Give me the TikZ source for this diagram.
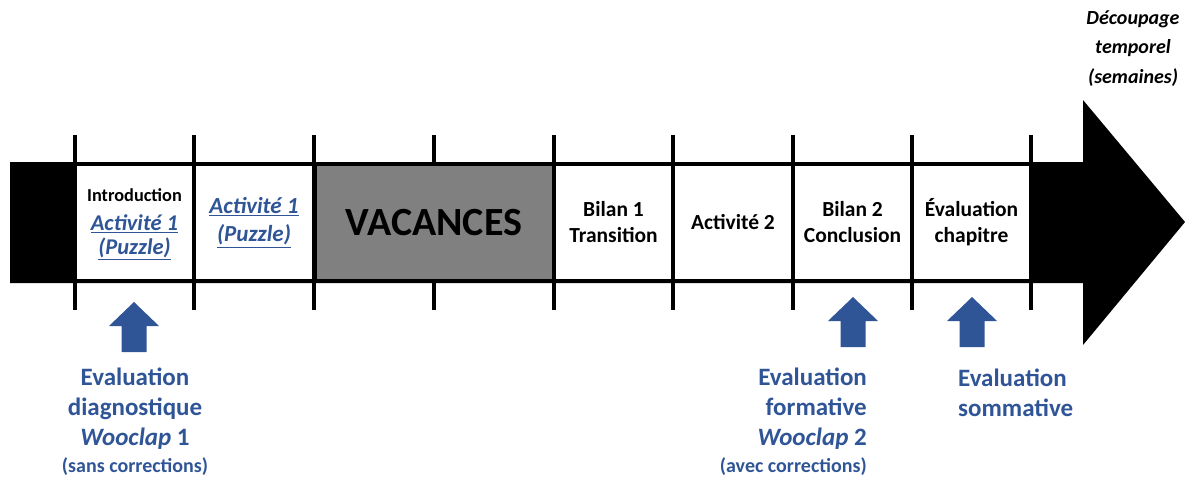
\documentclass[tikz,border=0pt]{standalone}
\usepackage{fontspec}
\setmainfont{Carlito}
\definecolor{eblue}{HTML}{2F5597}
\definecolor{vgray}{HTML}{808080}
\begin{document}
\begin{tikzpicture}[x=1pt,y=-1pt,
  cell/.style={draw=black, line width=4pt, fill=white, minimum width=119.5pt,
    minimum height=117pt, inner sep=0pt, anchor=center, align=center,
    font=\bfseries\fontsize{21.5}{26}\selectfont},
  tickline/.style={line width=4pt},
  evtext/.style={text=eblue, inner sep=0pt, font=\bfseries\fontsize{25}{30}\selectfont},
  uparr/.pic={\fill[eblue] (0,0) -- (25,24) -- (12.5,24) -- (12.5,50) -- (-12.5,50) -- (-12.5,24) -- (-25,24) -- cycle;}
]
\useasboundingbox (0,0) rectangle (1185,477);
% main black arrow
\fill[black] (10,162) -- (1083,162) -- (1083,100) -- (1185,222) -- (1083,345) -- (1083,283) -- (10,283) -- cycle;
% ticks
\foreach \x in {75,194,314,434,554,673,793,912,1031}
  \draw[tickline] (\x,135) -- (\x,310);
% cells
\node[cell] (intro) at (134.5,222.5) {};
\node[inner sep=0pt, align=center, font=\bfseries\fontsize{21.5}{26}\selectfont] (introtxt) at (134.5,224.5) {{\fontsize{18.3}{25}\selectfont Introduction}\\[3pt]
  {\fontsize{22.5}{26}\selectfont\itshape\color{eblue}\underline{Activité 1}}\\[-2pt]
  {\fontsize{22.5}{25}\selectfont\itshape\color{eblue}\underline{(Puzzle)}}};
\node[cell, font=\bfseries\itshape\fontsize{23}{28}\selectfont, text=eblue] (act1) at (254,222.5) {\underline{Activité 1}\\\underline{(Puzzle)}};
\node[cell, fill=vgray, minimum width=239pt, font=\bfseries\fontsize{40}{42}\selectfont] (vac) at (434,222.5) {VACANCES};
\node[cell] (bilan1) at (613.5,222.5) {Bilan 1\\Transition};
\node[cell] (act2) at (733,222.5) {Activité 2};
\node[cell] (bilan2) at (852.5,222.5) {Bilan 2\\Conclusion};
\node[cell] (evalch) at (971.5,222.5) {Évaluation\\chapitre};
% title
\node[inner sep=0pt, anchor=base, align=center, font=\bfseries\itshape\fontsize{20}{29.5}\selectfont] (titre) at (1133,83) {Découpage\\temporel\\(semaines)};
% blue arrows
\pic at (134,302) {uparr};
\pic at (853,297) {uparr};
\pic at (972,297) {uparr};
% evaluation texts
\node[evtext, anchor=base, align=center] (ev1) at (135,472) {Evaluation\\diagnostique\\\textit{Wooclap} 1\\[-3pt]{\fontsize{20}{24}\selectfont(sans corrections)}};
\node[evtext, anchor=base east, align=right] (ev2) at (867,472) {Evaluation\\formative\\\textit{Wooclap} 2\\[-3pt]{\fontsize{20}{24}\selectfont(avec corrections)}};
\node[evtext, anchor=base west, align=left] (ev3) at (958,416) {Evaluation\\sommative};
\end{tikzpicture}
\end{document}
